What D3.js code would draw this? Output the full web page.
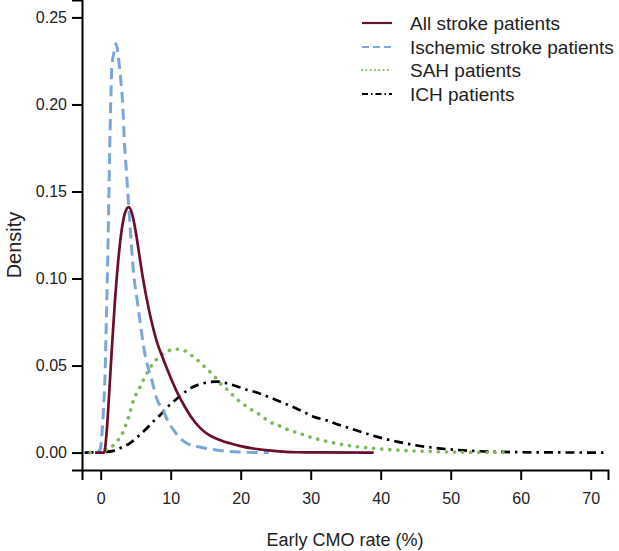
<!DOCTYPE html>
<html>
<head>
<meta charset="utf-8">
<script src="https://cdn.jsdelivr.net/npm/d3@7"></script>
<style>
  html, body { margin: 0; padding: 0; background: #fff; }
  svg { display: block; font-family: "Liberation Sans", Arial, sans-serif; }
</style>
</head>
<body>
<svg id="chart" width="619" height="551"></svg>
<script>
// ---- Data ----
const seriesNames = ["All stroke patients", "Ischemic stroke patients", "SAH patients", "ICH patients"];

const allStrokeX = [-0.8, 0.5, 0.7, 1.0, 1.3, 1.6, 2.0, 2.5, 3.0, 3.5, 4.0, 4.5, 5.0, 5.5, 6.0, 7.0, 8.0, 9.0, 10, 11, 12, 13, 14.2, 15.5, 17, 18.6, 20, 22, 24, 26, 28, 30, 39];
const allStrokeY = [0, 0, 0.005, 0.02, 0.04, 0.06, 0.085, 0.11, 0.128, 0.138, 0.141, 0.137, 0.127, 0.114, 0.101, 0.080, 0.064, 0.053, 0.043, 0.034, 0.0265, 0.02, 0.0142, 0.010, 0.0073, 0.0052, 0.0037, 0.0022, 0.0013, 0.0006, 0.0002, 0.0001, 0];

const ischemicX = [-0.3, 0, 0.2, 0.4, 0.6, 0.8, 1.0, 1.2, 1.4, 1.6, 1.9, 2.2, 2.5, 2.8, 3.1, 3.4, 3.7, 4.2, 4.7, 5.2, 5.6, 6.3, 7.3, 8.1, 8.9, 9.6, 10.4, 11.3, 12.3, 13.5, 15, 17, 18.5, 20, 22, 24];
const ischemicY = [0, 0.003, 0.012, 0.025, 0.042, 0.075, 0.11, 0.155, 0.195, 0.222, 0.230, 0.235, 0.228, 0.217, 0.203, 0.178, 0.160, 0.13, 0.103, 0.088, 0.076, 0.057, 0.0417, 0.030, 0.0245, 0.018, 0.013, 0.0085, 0.0054, 0.0038, 0.0025, 0.0012, 0.0006, 0.0003, 0.0001, 0];

const sahX = [-1.5, -0.5, 0.5, 1.5, 2.2, 3.0, 3.5, 4.1, 4.7, 5.4, 6.1, 6.8, 7.5, 8.5, 9.5, 10.9, 12, 13, 14.2, 15.2, 16.1, 17, 18, 19, 20, 21, 22.8, 24, 25.6, 27, 28.5, 30, 31.5, 33, 34.7, 37, 39, 42, 45, 48, 52, 55, 58];
const sahY = [0, 0.0003, 0.0012, 0.003, 0.006, 0.0102, 0.0149, 0.022, 0.0303, 0.036, 0.0417, 0.047, 0.0513, 0.0555, 0.0582, 0.0594, 0.0585, 0.0558, 0.0518, 0.0478, 0.0446, 0.040, 0.0365, 0.0325, 0.029, 0.026, 0.0216, 0.018, 0.0152, 0.0128, 0.0109, 0.0088, 0.0072, 0.0058, 0.0045, 0.0032, 0.0024, 0.0015, 0.0009, 0.0005, 0.0002, 0.0001, 0];

const ichX = [-2.3, 0, 1.8, 3.2, 4.2, 5.1, 6.6, 7.5, 8.5, 9.5, 10.4, 11.5, 12.8, 14, 15.1, 16.6, 18, 19.5, 21, 22.3, 24, 25.6, 27, 28.9, 30.5, 32.3, 34, 35.6, 37.5, 39.4, 42.3, 45, 48, 51, 54, 57, 60, 64, 68, 72];
const ichY = [0, 0.0002, 0.001, 0.0034, 0.0055, 0.0085, 0.014, 0.0178, 0.0216, 0.026, 0.0293, 0.033, 0.037, 0.039, 0.0402, 0.0408, 0.0398, 0.038, 0.036, 0.0345, 0.032, 0.0293, 0.027, 0.0235, 0.0205, 0.0185, 0.016, 0.014, 0.0115, 0.0092, 0.0063, 0.0042, 0.0026, 0.0015, 0.0008, 0.0004, 0.0002, 0.0001, 0.00005, 0];

const xTicks = [0, 10, 20, 30, 40, 50, 60, 70];
const yTicks = [0.00, 0.05, 0.10, 0.15, 0.20, 0.25];

// ---- Layout / style ----
const colors = ["#6A0F2E", "#7BA7D6", "#7DB85A", "#000000"];
const dashes = [null, "11,6", "0.1,8", "9,5,2.5,5"];
const widths = [2.7, 3, 3.6, 2.7];
const caps = ["butt", "butt", "round", "butt"];
const legendDashes = [null, "7,4", "0.1,4.2", "6,3,1.5,3"];
const legendWidths = [2.2, 1.8, 2, 1.8];
const legendCaps = ["butt", "butt", "round", "butt"];

const svg = d3.select("#chart");
const x = d3.scaleLinear().domain([-2.67, 72.47]).range([82, 608]);
const y = d3.scaleLinear().domain([-0.01, 0.26]).range([470, 0]);

const series = [
  {name: seriesNames[0], xs: allStrokeX, ys: allStrokeY},
  {name: seriesNames[1], xs: ischemicX, ys: ischemicY},
  {name: seriesNames[2], xs: sahX, ys: sahY},
  {name: seriesNames[3], xs: ichX, ys: ichY}
];

const line = d3.line().x(d => x(d[0])).y(d => y(d[1])).curve(d3.curveMonotoneX);

// draw order: ICH, SAH, ischemic, all stroke on top
[3, 2, 1, 0].forEach(i => {
  const s = series[i];
  const pts = s.xs.map((v, j) => [v, s.ys[j]]);
  svg.append("path")
    .datum(pts)
    .attr("d", line)
    .attr("fill", "none")
    .attr("stroke", colors[i])
    .attr("stroke-width", widths[i])
    .attr("stroke-dasharray", dashes[i])
    .attr("stroke-linecap", caps[i])
    .attr("stroke-linejoin", "round");
});

// Axes
const xAxis = d3.axisBottom(x).tickValues(xTicks).tickSizeOuter(0).tickSize(10).tickPadding(13).tickFormat(d3.format("d"));
const gx = svg.append("g").attr("transform", "translate(0,470)").call(xAxis);
const yAxis = d3.axisLeft(y).tickValues(yTicks).tickSizeOuter(0).tickSize(10).tickPadding(5).tickFormat(d3.format(".2f"));
const gy = svg.append("g").attr("transform", "translate(82,0)").call(yAxis);

[gx, gy].forEach(g => {
  g.select(".domain").attr("stroke", "#000").attr("stroke-width", 2);
  g.selectAll(".tick line").attr("stroke", "#000").attr("stroke-width", 2);
  g.selectAll(".tick text").attr("fill", "#222").style("font-size", "16px")
    .style("font-family", "'Liberation Sans', Arial, sans-serif");
});

// Axis titles
svg.append("text")
  .attr("x", 345).attr("y", 546)
  .attr("text-anchor", "middle")
  .attr("fill", "#222")
  .style("font-size", "18px")
  .text("Early CMO rate (%)");

svg.append("text")
  .attr("transform", "translate(21,245) rotate(-90)")
  .attr("text-anchor", "middle")
  .attr("fill", "#222")
  .style("font-size", "20px")
  .text("Density");

// Legend
const legend = svg.append("g");
const legendY = [23, 47, 70, 94];
series.forEach((s, i) => {
  legend.append("line")
    .attr("x1", 362).attr("x2", 392)
    .attr("y1", legendY[i]).attr("y2", legendY[i])
    .attr("stroke", colors[i])
    .attr("stroke-width", legendWidths[i])
    .attr("stroke-linecap", legendCaps[i])
    .attr("stroke-dasharray", legendDashes[i]);
  legend.append("text")
    .attr("x", 410).attr("y", legendY[i])
    .attr("dy", "0.35em")
    .attr("fill", "#222")
    .style("font-size", "19px")
    .text(s.name);
});
</script>
</body>
</html>
